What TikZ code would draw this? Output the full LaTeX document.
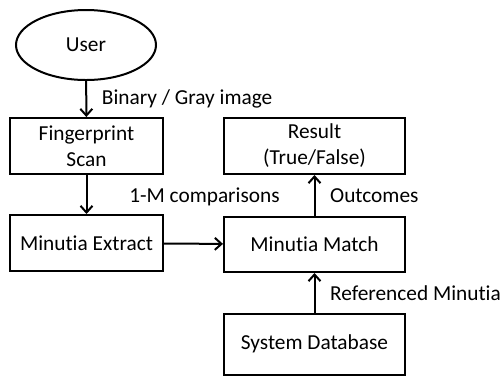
\documentclass[tikz,border=0pt]{standalone}
\usepackage{fontspec}
\setmainfont[Ligatures=NoCommon]{Carlito}
\usepackage{tikz}
\usetikzlibrary{positioning, arrows.meta, shapes.geometric}

\tikzset{
    block/.style={draw, line width=1.5pt, rectangle, align=center, inner sep=0pt},
    arr/.style={-{Straight Barb[length=5pt, width=9pt]}, line width=1.5pt},
    lbl/.style={inner sep=0pt}
}

\begin{document}
\begin{tikzpicture}[x=0.75pt, y=-0.75pt, font=\fontsize{16}{19.5}\selectfont]
    \useasboundingbox (0,0) rectangle (503,376);

    % left column
    \node[draw, ellipse, line width=1.5pt, minimum width=105pt, minimum height=52.5pt, inner sep=0pt] (user) at (86,45) {User};
    \node[block, minimum width=114.75pt, minimum height=42pt] (scan) at (86.5,146) {Fingerprint\\Scan};
    \node[block, minimum width=114.75pt, minimum height=42pt] (extract) at (86.5,243) {Minutia Extract};

    % right column
    \node[block, minimum width=135.75pt, minimum height=42pt] (result) at (314.5,146) {Result\\(True/False)};
    \node[block, minimum width=135.75pt, minimum height=41.25pt] (match) at (314.5,244.5) {Minutia Match};
    \node[block, minimum width=135.75pt, minimum height=45.75pt] (database) at (314.5,344) {System Database};

    % connectors
    \draw[arr] (user) -- node[lbl, right=11pt] (lblimage) {Binary / Gray image} (scan);
    \draw[arr] (scan) -- (extract);
    \draw[arr] (extract) -- (match);
    \draw[arr] (match) -- node[lbl, right=11pt] (lbloutcome) {Outcomes} (result);
    \draw[arr] (database) -- node[lbl, right=11pt] (lblref) {Referenced Minutia} (match);
    \node[lbl, anchor=west] (lblcomp) at (129,197) {1-M comparisons};
\end{tikzpicture}
\end{document}
